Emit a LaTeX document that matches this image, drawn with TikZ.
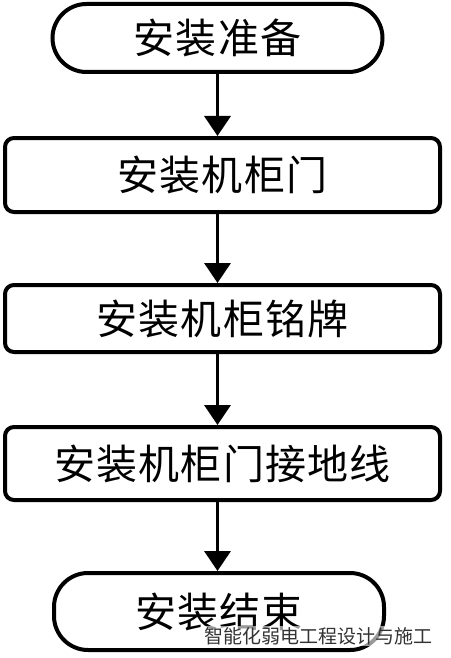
\documentclass[tikz,border=0pt]{standalone}
\usepackage{fontspec}
\setmainfont{Noto Sans CJK SC}
\usetikzlibrary{
		arrows.meta,
		positioning
	}
\newcommand{\boxfont}{\fontsize{41}{41}\selectfont\addfontfeature{LetterSpace=3}}
\tikzset{
		>={Triangle[width=26pt,length=20pt]},
		stepbox/.style={draw, line width=4pt, rounded corners=9pt,
			minimum width=435pt, inner sep=0pt, font=\boxfont},
		endbox/.style={draw, line width=4pt, rounded corners=34pt,
			minimum width=330pt, inner sep=0pt, font=\boxfont},
		flow/.style={->, line width=3.5pt}
	}
\begin{document}
\begin{tikzpicture}[x=1pt, y=-1pt]
          \useasboundingbox (0,0) rectangle (450,658);

          \node[endbox, minimum height=68pt] (start) at (217.5,38) {安装准备};
          \node[stepbox, minimum height=74pt] (door) at (222.5,175) {安装机柜门};
          \node[stepbox, minimum height=67pt] (plate) at (222.5,318.5) {安装机柜铭牌};
          \node[stepbox, minimum height=73pt] (ground) at (222.5,463.5) {安装机柜门接地线};
          \node[endbox, minimum height=77pt] (finish) at (219,611.5) {安装结束};

          \draw[flow] (start.south) -- (start.south |- door.north);
          \draw[flow] (start.south |- door.south) -- (start.south |- plate.north);
          \draw[flow] (start.south |- plate.south) -- (start.south |- ground.north);
          \draw[flow] (start.south |- ground.south) -- (start.south |- finish.north);

          % watermark
          \node[fill=white, fill opacity=0.6, text opacity=1, inner sep=1pt,
                font=\fontsize{19}{19}\selectfont, text=black!80] (mark) at (318,636)
                {智能化弱电工程设计与施工};

          \end{tikzpicture}
\end{document}
